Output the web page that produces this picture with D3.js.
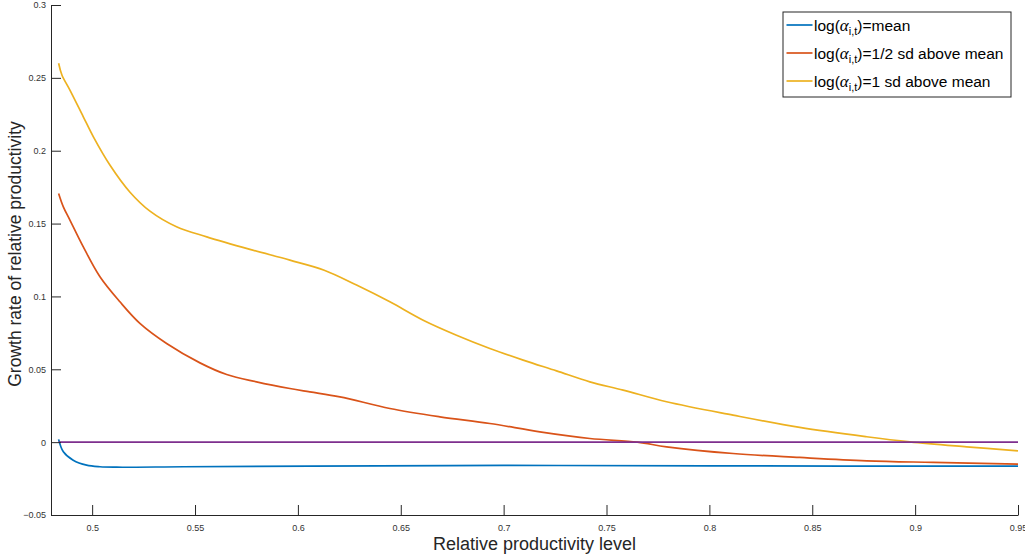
<!DOCTYPE html>
<html>
<head>
<meta charset="utf-8">
<script src="https://cdn.jsdelivr.net/npm/d3@7"></script>
<style>
  body { margin: 0; background: #fff; }
  svg { display: block; font-family: "Liberation Sans", Arial, sans-serif; }
</style>
</head>
<body>
<div id="chart"></div>
<script>
// series: x = relative productivity, y = growth rate
var xMean = [0.4837, 0.486, 0.4908, 0.4973, 0.5038, 0.5119, 0.5443, 0.6058, 0.70, 0.80, 0.95];
var yMean = [0.0019, -0.0066, -0.0124, -0.0158, -0.0169, -0.0172, -0.0169, -0.0164, -0.0160, -0.0163, -0.0165];

var xHalf = [0.4837, 0.486, 0.4892, 0.4957, 0.5038, 0.5135, 0.5232, 0.5362, 0.5524, 0.5654, 0.5799,
             0.5961, 0.6058, 0.6204, 0.6447, 0.669, 0.6933, 0.7176, 0.7419, 0.765, 0.7792, 0.8115,
             0.8439, 0.8764, 0.9088, 0.95];
var yHalf = [0.1707, 0.1615, 0.1524, 0.134, 0.1135, 0.0963, 0.0815, 0.0677, 0.0544, 0.0464, 0.0414,
             0.0368, 0.0345, 0.0311, 0.0231, 0.0174, 0.0128, 0.0071, 0.0025, 0.0, -0.0032, -0.0078,
             -0.0105, -0.0128, -0.0139, -0.0151];

var xOne = [0.4837, 0.4853, 0.4892, 0.4957, 0.5006, 0.5087, 0.5184, 0.5281, 0.541, 0.5557, 0.5767,
            0.5961, 0.6128, 0.6285, 0.6447, 0.6609, 0.6771, 0.6933, 0.7095, 0.7257, 0.7419, 0.7581,
            0.7792, 0.8115, 0.8439, 0.8764, 0.8974, 0.925, 0.95];
var yOne = [0.260, 0.252, 0.2416, 0.2233, 0.2095, 0.190, 0.1715, 0.1585, 0.1478, 0.1409, 0.1323,
            0.1249, 0.118, 0.1078, 0.0963, 0.0837, 0.0734, 0.0643, 0.0563, 0.0489, 0.0414, 0.0357,
            0.0277, 0.0185, 0.0101, 0.0037, 0.0002, -0.0032, -0.006];

var xZero = [0.4837, 0.95];
var yZero = [0, 0];

var xTicks = [0.5, 0.55, 0.6, 0.65, 0.7, 0.75, 0.8, 0.85, 0.9, 0.95];
var yTicks = [-0.05, 0, 0.05, 0.1, 0.15, 0.2, 0.25, 0.3];

var legendLabels = ["=mean", "=1/2 sd above mean", "=1 sd above mean"];
var colors = ["#0072BD", "#D95319", "#EDB120", "#7E2F8E"];

var W = 1025, H = 560;
var margin = {top: 5, right: 7, bottom: 45, left: 51};
var width = W - margin.left - margin.right;
var height = H - margin.top - margin.bottom;

var svg = d3.select("#chart")
  .append("svg")
    .attr("width", W)
    .attr("height", H)
  .append("g")
    .attr("transform", "translate(" + margin.left + "," + margin.top + ")");

var x = d3.scaleLinear().domain([0.48, 0.95]).range([0, width]);
var y = d3.scaleLinear().domain([-0.05, 0.3]).range([height, 0]);

// curves
var series = [
  {xs: xMean, ys: yMean, c: colors[0]},
  {xs: xHalf, ys: yHalf, c: colors[1]},
  {xs: xOne,  ys: yOne,  c: colors[2]},
  {xs: xZero, ys: yZero, c: colors[3]}
];

var line = d3.line()
  .curve(d3.curveCatmullRom.alpha(0.5))
  .x(function(d) { return x(d[0]); })
  .y(function(d) { return y(d[1]); });

svg.selectAll(".curve")
  .data(series)
  .enter()
  .append("path")
    .attr("class", "curve")
    .attr("fill", "none")
    .attr("stroke", function(d) { return d.c; })
    .attr("stroke-width", 1.7)
    .attr("d", function(d) { return line(d.xs.map(function(v, i) { return [v, d.ys[i]]; })); });

// axes, MATLAB style: ticks point inward, no box
var xAxis = svg.append("g")
  .attr("transform", "translate(0," + height + ")")
  .call(d3.axisBottom(x).tickValues(xTicks).tickSize(-10).tickPadding(6).tickSizeOuter(0)
        .tickFormat(function(d) { return d3.format("")(+d.toFixed(2)); }));

var yAxis = svg.append("g")
  .call(d3.axisLeft(y).tickValues(yTicks).tickSize(-10).tickPadding(5).tickSizeOuter(0)
        .tickFormat(function(d) { return d3.format("")(+d.toFixed(2)); }));

[xAxis, yAxis].forEach(function(a) {
  a.select(".domain").attr("stroke", "#262626").attr("stroke-width", 1);
  a.selectAll(".tick line").attr("stroke", "#262626");
  a.selectAll(".tick text").attr("fill", "#333").style("font-size", "9px")
    .style("font-family", "'Liberation Sans', Arial, sans-serif");
});
xAxis.selectAll(".tick text").attr("dy", "1.1em");

// axis labels
svg.append("text")
  .attr("x", width / 2)
  .attr("y", height + 35)
  .attr("text-anchor", "middle")
  .attr("fill", "#262626")
  .style("font-size", "18px")
  .text("Relative productivity level");

svg.append("text")
  .attr("transform", "translate(" + (-30) + "," + (height / 2 - 6) + ") rotate(-90)")
  .attr("text-anchor", "middle")
  .attr("fill", "#262626")
  .style("font-size", "17.5px")
  .text("Growth rate of relative productivity");

// legend
var lg = svg.append("g").attr("transform", "translate(" + (783 - margin.left) + "," + (12 - margin.top) + ")");
lg.append("rect")
  .attr("width", 228).attr("height", 85)
  .attr("fill", "#fff")
  .attr("stroke", "#262626")
  .attr("stroke-width", 1);

var rows = lg.selectAll(".row")
  .data(legendLabels)
  .enter()
  .append("g")
    .attr("transform", function(d, i) { return "translate(0," + (13 + i * 28) + ")"; });

rows.append("line")
  .attr("x1", 3.5).attr("x2", 29.5)
  .attr("stroke", function(d, i) { return colors[i]; })
  .attr("stroke-width", 1.7);

var t = rows.append("text")
  .attr("x", 31)
  .attr("y", 5.5)
  .attr("fill", "#000")
  .style("font-size", "15.5px");
t.append("tspan").text("log(");
t.append("tspan")
  .style("font-family", "'Liberation Serif', serif")
  .style("font-style", "italic")
  .style("font-size", "17px")
  .text("\u03b1");
t.append("tspan").attr("dy", 4.5).style("font-size", "11px").text("i,t");
t.append("tspan").attr("dy", -4.5).text(function(d) { return ")" + d; });
</script>
</body>
</html>
